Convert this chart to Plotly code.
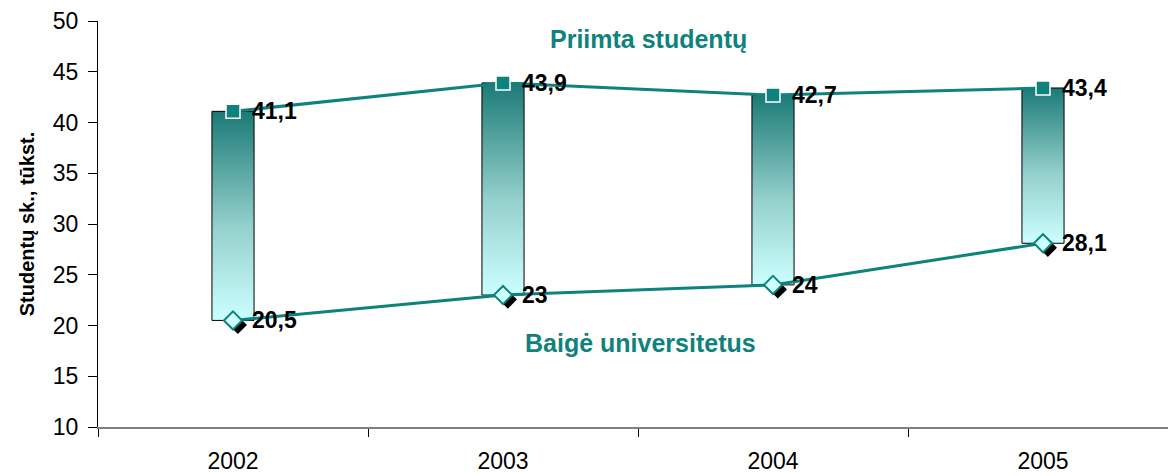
import plotly.graph_objects as go

years = ["2002", "2003", "2004", "2005"]
priimta = [41.1, 43.9, 42.7, 43.4]
baige = [20.5, 23.0, 24.0, 28.1]
priimta_txt = ["41,1", "43,9", "42,7", "43,4"]
baige_txt = ["20,5", "23", "24", "28,1"]

TEAL = "#0e827d"
FONT = "Liberation Sans, Arial, sans-serif"
xs = list(range(len(years)))
half = 0.078

fig = go.Figure()

# gradient "bars" between the two series
for i, (lo, hi) in enumerate(zip(baige, priimta)):
    fig.add_trace(go.Scatter(
        x=[i - half, i + half, i + half, i - half, i - half],
        y=[lo, lo, hi, hi, lo],
        mode="lines", fill="toself",
        line=dict(color="black", width=1),
        fillgradient=dict(type="vertical",
                          colorscale=[[0, "#ccffff"], [0.45, "#94d0cc"], [1, "#1b7a76"]]),
        hoverinfo="skip", showlegend=False))

# shadow of diamonds
fig.add_trace(go.Scatter(
    x=[x + 0.018 for x in xs], y=[v - 0.45 for v in baige], mode="markers",
    marker=dict(symbol="diamond", size=14, color="black"),
    hoverinfo="skip", showlegend=False))

fig.add_trace(go.Scatter(
    x=xs, y=priimta, mode="lines+markers",
    line=dict(color=TEAL, width=3),
    marker=dict(symbol="square", size=14, color=TEAL, line=dict(color="white", width=1.5)),
    showlegend=False))

fig.add_trace(go.Scatter(
    x=xs, y=baige, mode="lines+markers",
    line=dict(color=TEAL, width=3),
    marker=dict(symbol="diamond", size=14, color="#ccffff", line=dict(color=TEAL, width=2)),
    showlegend=False))

for x, v, t in zip(xs, priimta, priimta_txt):
    fig.add_annotation(x=x, y=v, text=t, showarrow=False, xanchor="left", xshift=17,
                       font=dict(family=FONT, size=23, color="black", weight="bold"))
for x, v, t in zip(xs, baige, baige_txt):
    fig.add_annotation(x=x, y=v, text=t, showarrow=False, xanchor="left", xshift=17,
                       font=dict(family=FONT, size=23, color="black", weight="bold"))

fig.add_annotation(x=1.54, y=48.2, text="Priimta studentų", showarrow=False,
                   font=dict(family=FONT, size=25, color=TEAL, weight="bold"))
fig.add_annotation(x=1.51, y=18.3, text="Baigė universitetus", showarrow=False,
                   font=dict(family=FONT, size=25, color=TEAL, weight="bold"))

fig.update_layout(
    width=1176, height=476,
    margin=dict(l=90, r=6, t=13, b=57, autoexpand=False),
    plot_bgcolor="white", paper_bgcolor="white",
    font=dict(family=FONT, color="black"),
    xaxis=dict(range=[-0.5, 3.5], tickvals=xs, ticktext=years, ticks="",
               tickfont=dict(size=23), showgrid=False, zeroline=False,
               showline=True, linecolor="#808080", linewidth=2,
               ticklabelstandoff=12, automargin=False,
               minor=dict(tickvals=[-0.5, 0.5, 1.5, 2.5, 3.5], ticks="outside",
                          ticklen=8, tickcolor="black", tickwidth=1, showgrid=False)),
    yaxis=dict(range=[10, 50], dtick=5, ticks="outside", ticklen=9, tickcolor="black",
               tickfont=dict(size=23), showgrid=False, zeroline=False,
               showline=True, linecolor="black", linewidth=1,
               ticklabelstandoff=5, ticklabeloverflow="allow", automargin=False,
               title=dict(text="Studentų sk., tūkst.", standoff=12,
                          font=dict(size=20, weight="bold"))),
)

fig.write_html("out.html")
